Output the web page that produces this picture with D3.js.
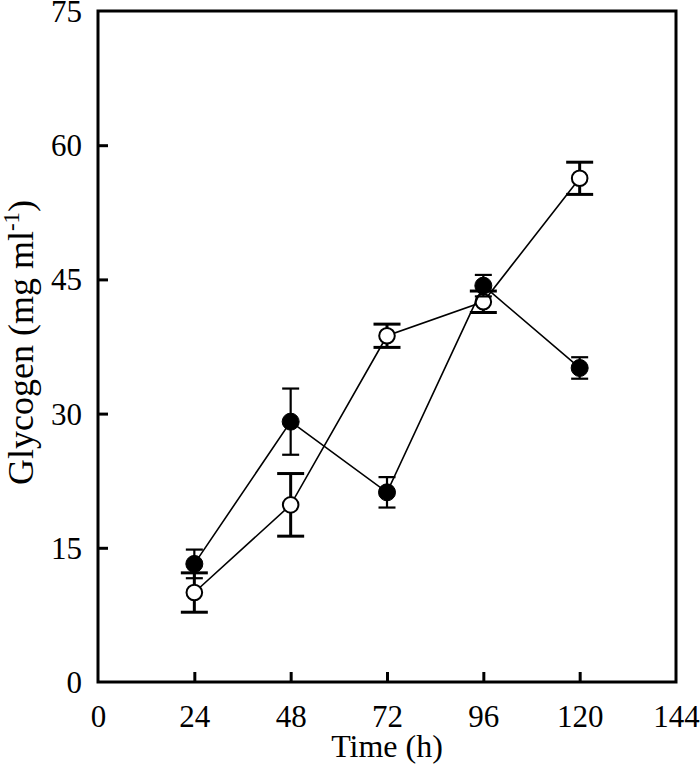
<!DOCTYPE html>
<html>
<head>
<meta charset="utf-8">
<script src="https://cdn.jsdelivr.net/npm/d3@7"></script>
<style>
  body { margin: 0; background: #fff; }
  svg text { font-family: "Liberation Serif", "Times New Roman", serif; fill: #000; }
</style>
</head>
<body>
<div id="chart"></div>
<script>
// data
var hours = [24, 48, 72, 96, 120];
var filledMean = [13.2, 29.1, 21.2, 44.3, 35.1];
var filledErr  = [1.6, 3.7, 1.7, 1.2, 1.2];
var openMean   = [10.0, 19.8, 38.7, 42.5, 56.3];
var openErr    = [2.2, 3.5, 1.3, 1.2, 1.8];
var xTicks = [0, 24, 48, 72, 96, 120, 144];
var yTicks = [0, 15, 30, 45, 60, 75];

var width = 700, height = 768,
margin = {top: 11, right: 24, bottom: 86, left: 98};

var svg = d3.select("#chart").append("svg")
  .attr("width", width)
  .attr("height", height);

var x = d3.scaleLinear().domain([0, 144]).range([margin.left, width - margin.right]);
var y = d3.scaleLinear().domain([0, 75]).range([height - margin.bottom, margin.top]);

// frame
svg.append("rect")
  .attr("x", x(0)).attr("y", y(75))
  .attr("width", x(144) - x(0)).attr("height", y(0) - y(75))
  .attr("fill", "none").attr("stroke", "#000").attr("stroke-width", 3);

// x axis, ticks inward
var xAxis = svg.append("g").attr("transform", "translate(0," + y(0) + ")")
  .call(d3.axisBottom(x).tickValues(xTicks).tickSizeInner(-10).tickSizeOuter(0).tickPadding(22));
xAxis.select(".domain").remove();
xAxis.selectAll(".tick line").attr("stroke-width", 3)
  .filter(function(d){ return d === 0 || d === 144; }).remove();
xAxis.selectAll("text").attr("font-size", 31).attr("font-family", "Liberation Serif")
  .attr("dy", "0.71em").attr("y", 23);

// y axis
var yAxis = svg.append("g").attr("transform", "translate(" + x(0) + ",0)")
  .call(d3.axisLeft(y).tickValues(yTicks).tickSizeInner(-10).tickSizeOuter(0).tickPadding(16));
yAxis.select(".domain").remove();
yAxis.selectAll(".tick line").attr("stroke-width", 3)
  .filter(function(d){ return d === 0 || d === 75; }).remove();
yAxis.selectAll("text").attr("font-size", 31).attr("font-family", "Liberation Serif")
  .attr("x", -16).attr("dy", "0.34em");

// axis titles
svg.append("text")
  .attr("x", (x(0) + x(144)) / 2).attr("y", 757)
  .attr("text-anchor", "middle").attr("font-size", 32)
  .text("Time (h)");

var yTitle = svg.append("text")
  .attr("transform", "translate(33," + ((y(0) + y(75)) / 2 - 4) + ") rotate(-90)")
  .attr("text-anchor", "middle").attr("font-size", 36);
yTitle.append("tspan").text("Glycogen (mg ml");
yTitle.append("tspan").attr("font-size", 23).attr("dy", -14).text("-1");
yTitle.append("tspan").attr("dy", 14).text(")");

var filled = hours.map(function(h, i){ return {x: h, m: filledMean[i], e: filledErr[i]}; });
var open = hours.map(function(h, i){ return {x: h, m: openMean[i], e: openErr[i]}; });

var line = d3.line().x(function(d){ return x(d.x); }).y(function(d){ return y(d.m); });

function drawErr(g, data, capW, sw) {
  var eb = g.selectAll("g.err").data(data).enter().append("g").attr("class", "err")
    .attr("stroke", "#000").attr("stroke-width", sw);
  eb.append("line")
    .attr("x1", function(d){ return x(d.x); }).attr("x2", function(d){ return x(d.x); })
    .attr("y1", function(d){ return y(d.m + d.e); }).attr("y2", function(d){ return y(d.m - d.e); });
  eb.append("line")
    .attr("x1", function(d){ return x(d.x) - capW / 2; }).attr("x2", function(d){ return x(d.x) + capW / 2; })
    .attr("y1", function(d){ return y(d.m + d.e); }).attr("y2", function(d){ return y(d.m + d.e); });
  eb.append("line")
    .attr("x1", function(d){ return x(d.x) - capW / 2; }).attr("x2", function(d){ return x(d.x) + capW / 2; })
    .attr("y1", function(d){ return y(d.m - d.e); }).attr("y2", function(d){ return y(d.m - d.e); });
}

var gOpen = svg.append("g");
var gFilled = svg.append("g");

gOpen.append("path").datum(open).attr("d", line)
  .attr("fill", "none").attr("stroke", "#000").attr("stroke-width", 1.6);
gFilled.append("path").datum(filled).attr("d", line)
  .attr("fill", "none").attr("stroke", "#000").attr("stroke-width", 1.6);

drawErr(gOpen, open, 27, 3);
drawErr(gFilled, filled, 17, 2.2);

gOpen.selectAll("circle").data(open).enter().append("circle")
  .attr("cx", function(d){ return x(d.x); }).attr("cy", function(d){ return y(d.m); })
  .attr("r", 7.8).attr("fill", "#fff").attr("stroke", "#000").attr("stroke-width", 2);
gFilled.selectAll("circle").data(filled).enter().append("circle")
  .attr("cx", function(d){ return x(d.x); }).attr("cy", function(d){ return y(d.m); })
  .attr("r", 8.5).attr("fill", "#000").attr("stroke", "#000").attr("stroke-width", 1);
</script>
</body>
</html>
